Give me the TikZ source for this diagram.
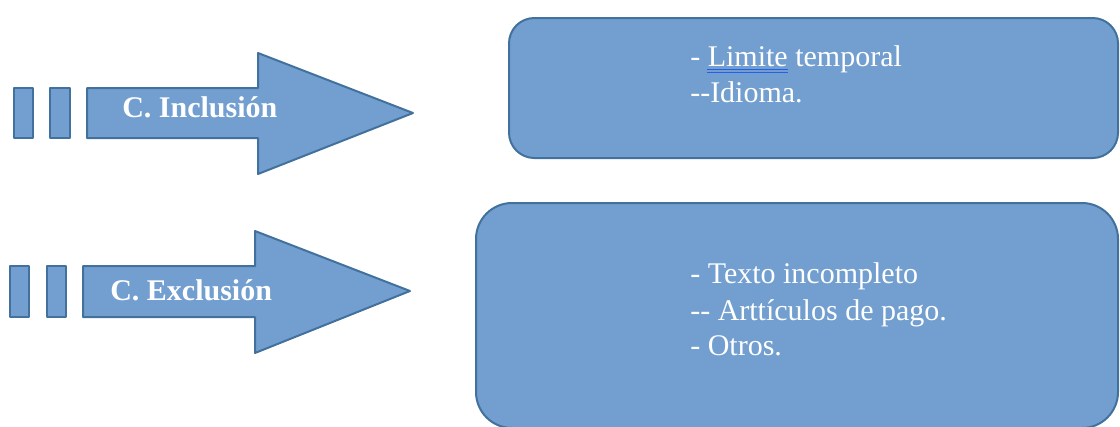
\documentclass[tikz,border=0pt]{standalone}
\usepackage{fontspec}
\setmainfont{Liberation Serif}
\definecolor{shapefill}{RGB}{114,159,207}
\definecolor{shapeline}{RGB}{65,113,156}
\definecolor{spellmark}{RGB}{40,95,230}
\tikzset{
  shp/.style={fill=shapefill, draw=shapeline, line width=1.5, line join=round},
  arrowlabel/.style={text=white, font=\fontsize{22.5}{27}\selectfont\bfseries, inner sep=0pt, anchor=base west},
  itemtext/.style={text=white, font=\fontsize{22.5}{27}\selectfont, inner sep=0pt, anchor=base west},
  spell/.style={draw=spellmark, line width=1.2},
}
\begin{document}
\begin{tikzpicture}[x=0.75pt, y=-0.75pt]
\useasboundingbox (0,0) rectangle (1120,426);

% striped arrow: inclusion criteria
\draw[shp] (14,88) rectangle (33,138);
\draw[shp] (50,88) rectangle (70,138);
\draw[shp] (87,88) -- (258,88) -- (258,53) -- (413,113) -- (258,174) -- (258,138) -- (87,138) -- cycle;
\node[arrowlabel] (incl) at (122,117) {C. Inclusión};

% striped arrow: exclusion criteria
\draw[shp] (10,266) rectangle (29,317);
\draw[shp] (47,266) rectangle (66,317);
\draw[shp] (83,266) -- (255,266) -- (255,231) -- (410,291) -- (255,353) -- (255,317) -- (83,317) -- cycle;
\node[arrowlabel] (excl) at (110,300) {C. Exclusión};

% rounded boxes
\draw[shp, rounded corners=19] (509,18) rectangle (1118,158);
\draw[shp, rounded corners=27] (476,203) rectangle (1118,428);

% inclusion items
\node[itemtext] (i1) at (690,66) {- Limite temporal};
\node[itemtext] (i2) at (690,102) {-{}-Idioma.};
\draw[spell] (707,69.5) -- (788,69.5);
\draw[spell] (707,72.3) -- (788,72.3);

% exclusion items
\node[itemtext] (e1) at (690,283) {- Texto incompleto};
\node[itemtext] (e2) at (690,320) {-{}- Arttículos de pago.};
\node[itemtext] (e3) at (690,355) {- Otros.};
\end{tikzpicture}
\end{document}
